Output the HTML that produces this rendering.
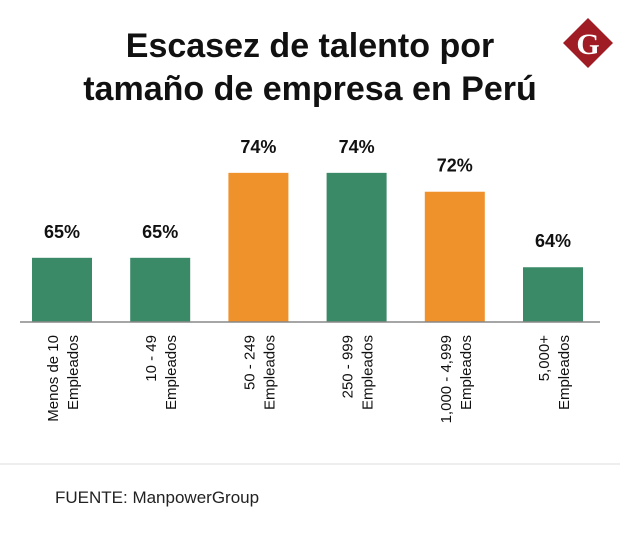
<!DOCTYPE html>
<html><head><meta charset="utf-8"><style>
body{margin:0;background:#fff;width:620px;height:534px;overflow:hidden;font-family:"Liberation Sans",sans-serif}
</style></head><body>
<svg width="620" height="534" viewBox="0 0 620 534">
<text x="310" y="57" text-anchor="middle" font-size="34" font-weight="bold" fill="#111">Escasez de talento por</text>
<text x="310" y="100" text-anchor="middle" font-size="34" font-weight="bold" fill="#111">tamaño de empresa en Perú</text>
<g>
<polygon points="588,18 613,43 588,68 563,43" fill="#a01c25"/>
<text x="588" y="54" text-anchor="middle" font-size="30" font-weight="bold" font-family="Liberation Serif,serif" fill="#fff">G</text>
</g>
<g id="bars"></g>
<line x1="20" y1="322" x2="600" y2="322" stroke="#888" stroke-width="1.5"/>
<line x1="0" y1="464" x2="620" y2="464" stroke="#ddd" stroke-width="1"/>
<text x="55" y="503" font-size="17" fill="#222">FUENTE: ManpowerGroup</text>
</svg>
<script>
const categories=[["Menos de 10","Empleados"],["10 - 49","Empleados"],["50 - 249","Empleados"],["250 - 999","Empleados"],["1,000 - 4,999","Empleados"],["5,000+","Empleados"]];
const values=[65,65,74,74,72,64];
const colors=["#3a8a68","#3a8a68","#f0922b","#3a8a68","#f0922b","#3a8a68"];
const ns="http://www.w3.org/2000/svg";
const g=document.getElementById('bars');
const x=i=>62+i*98.2;
const y=v=>322-(v-58.2)*9.44;
values.forEach((v,i)=>{
 const r=document.createElementNS(ns,'rect');
 r.setAttribute('x',x(i)-30);r.setAttribute('y',y(v));r.setAttribute('width',60);r.setAttribute('height',322-y(v));r.setAttribute('fill',colors[i]);
 
 
 g.appendChild(r);
 const t=document.createElementNS(ns,'text');
 t.setAttribute('x',x(i));t.setAttribute('y',y(v)-20);t.setAttribute('text-anchor','middle');t.setAttribute('font-size','18');t.setAttribute('font-weight','bold');t.setAttribute('fill','#111');
 t.textContent=v+'%';
 
 
 g.appendChild(t);
 categories[i].forEach((line,j)=>{
  const c=document.createElementNS(ns,'text');
  const cx=x(i)-4+j*20;
  c.setAttribute('transform','translate('+cx+',335) rotate(-90)');
  c.setAttribute('text-anchor','end');c.setAttribute('font-size','15');c.setAttribute('fill','#111');
  c.textContent=line;
  
  
  g.appendChild(c);
 });
});
</script>
</body></html>
